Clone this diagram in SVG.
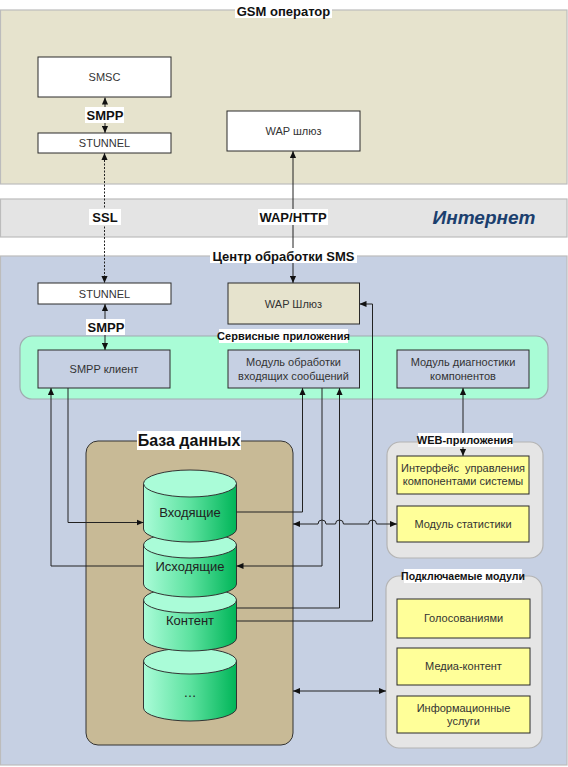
<svg xmlns="http://www.w3.org/2000/svg" width="568" height="767" viewBox="0 0 568 767">
<defs>
<style>
text{font-family:"Liberation Sans",Arial,sans-serif;text-anchor:middle;dominant-baseline:central}
.panel{stroke:#bcbcbc;stroke-width:1.2}
.box{stroke:#2a2a2a;stroke-width:1}
.wbox{fill:#ffffff}
.bbox{fill:#c6d0e3}
.ybox{fill:#ffff99}
.t{font-size:11px;fill:#333}
.lbl{font-size:13px;font-weight:bold;fill:#111}
.sm{font-size:11px;font-weight:bold;fill:#111}
.cyl{font-size:13px;fill:#222}
.bg{fill:#ffffff}
.c{fill:none;stroke:#222;stroke-width:1}
.cy{stroke:#333;stroke-width:1}
</style>
<linearGradient id="g" x1="0" y1="0" x2="1" y2="0">
<stop offset="0" stop-color="#aafcd8"/>
<stop offset="0.5" stop-color="#5de2a0"/>
<stop offset="1" stop-color="#00b558"/>
</linearGradient>
<marker id="a" viewBox="0 0 8 8" refX="8" refY="4" markerWidth="7" markerHeight="7" markerUnits="userSpaceOnUse" orient="auto-start-reverse">
<path d="M0,0.5 L8,4 L0,7.5 Z" fill="#111"/>
</marker>
</defs>

<!-- Panels -->
<g id="gsm-panel">
<rect class="panel" x="0.5" y="10" width="566.5" height="174" fill="#e6e3cd"/>
</g>
<g id="internet-panel">
<rect class="panel" x="0.5" y="199" width="566.5" height="38" fill="#e4e4e4"/>
<text x="484" y="217" style="font-size:19px;font-weight:bold;font-style:italic;fill:#1b3f6e">Интернет</text>
</g>
<g id="sms-panel">
<rect class="panel" x="0.5" y="256" width="566.5" height="509" fill="#c6d0e3"/>
</g>
<g id="service-panel">
<rect x="20" y="336" width="528" height="63" rx="12" fill="#a9fcd6" stroke="#a0aab0" stroke-width="1.2"/>
</g>
<g id="web-panel">
<rect x="387" y="442" width="156" height="116" rx="13" fill="#e5e5e5" stroke="#b4b4b4" stroke-width="1.2"/>
</g>
<g id="plugins-panel">
<rect x="386" y="576" width="156" height="172" rx="13" fill="#e5e5e5" stroke="#b4b4b4" stroke-width="1.2"/>
</g>
<g id="db">
<rect x="86" y="441" width="207" height="304" rx="12" fill="#c8ba96" stroke="#333" stroke-width="1"/>
</g>

<!-- Cylinders (bottom first) -->
<g id="cyl-more">
<path class="cy" d="M143.5,661 V708 A46.5,13 0 0 0 236.5,708 V661 Z" fill="url(#g)"/>
<ellipse class="cy" cx="190" cy="661" rx="46.5" ry="13" fill="#aafcd8"/>
<text class="cyl" x="190" y="692">…</text>
</g>
<g id="cyl-content">
<path class="cy" d="M143.5,600 V638 A46.5,13 0 0 0 236.5,638 V600 Z" fill="url(#g)"/>
<ellipse class="cy" cx="190" cy="600" rx="46.5" ry="13" fill="#aafcd8"/>
<text class="cyl" x="190" y="620">Контент</text>
</g>
<g id="cyl-out">
<path class="cy" d="M143.5,545 V584 A46.5,13 0 0 0 236.5,584 V545 Z" fill="url(#g)"/>
<ellipse class="cy" cx="190" cy="545" rx="46.5" ry="13" fill="#aafcd8"/>
<text class="cyl" x="190" y="566">Исходящие</text>
</g>
<g id="cyl-in">
<path class="cy" d="M143.5,483.5 V529 A46.5,13 0 0 0 236.5,529 V483.5 Z" fill="url(#g)"/>
<ellipse class="cy" cx="190" cy="483.5" rx="46.5" ry="13.5" fill="#aafcd8"/>
<text class="cyl" x="190" y="512">Входящие</text>
</g>

<!-- Connectors -->
<g id="connectors">
<path class="c" d="M105,97.5 V133" marker-start="url(#a)" marker-end="url(#a)"/>
<path class="c" d="M104.5,153 V283" stroke-dasharray="2,1.5" marker-start="url(#a)" marker-end="url(#a)"/>
<path class="c" d="M293,151 V283" marker-start="url(#a)" marker-end="url(#a)"/>
<path class="c" d="M105,304 V350" marker-start="url(#a)" marker-end="url(#a)"/>
<path class="c" d="M68,388 V522.5 H143.5" marker-end="url(#a)"/>
<path class="c" d="M143.5,566 H51 V388" marker-end="url(#a)"/>
<path class="c" d="M236.5,512 H302.5 V388" marker-end="url(#a)"/>
<path class="c" d="M322,388 V566 H236.5" marker-end="url(#a)"/>
<path class="c" d="M236.5,608 H339.5 V388" marker-end="url(#a)"/>
<path class="c" d="M236.5,621 H372.5 V304 H359.5" marker-end="url(#a)"/>
<path class="c" d="M463,388 V456" marker-start="url(#a)" marker-end="url(#a)"/>
<path class="c" d="M293,524 H318 A4,4 0 0 1 326,524 H335.5 A4,4 0 0 1 343.5,524 H368.5 A4,4 0 0 1 376.5,524 H397" marker-start="url(#a)" marker-end="url(#a)"/>
<path class="c" d="M293,691 H386" marker-start="url(#a)" marker-end="url(#a)"/>
</g>

<!-- Connector labels -->
<g id="labels">
<rect class="bg" x="85" y="107" width="39" height="16"/>
<text class="lbl" x="105" y="115">SMPP</text>
<rect class="bg" x="89" y="209" width="32" height="16"/>
<text class="lbl" x="105" y="217">SSL</text>
<rect class="bg" x="258" y="209" width="70" height="16"/>
<text class="lbl" x="293" y="217">WAP/HTTP</text>
<rect class="bg" x="86" y="319" width="39" height="16"/>
<text class="lbl" x="106" y="327">SMPP</text>
</g>

<!-- Panel titles -->
<g id="titles">
<rect class="bg" x="235" y="3" width="97" height="15"/>
<text class="lbl" x="283.5" y="11">GSM оператор</text>
<rect class="bg" x="210" y="248" width="147" height="15"/>
<text class="lbl" x="283.5" y="256">Центр обработки SMS</text>
<rect class="bg" x="219" y="329" width="129" height="14"/>
<text class="sm" x="283.5" y="336">Сервисные приложения</text>
<rect class="bg" x="137" y="431" width="104" height="19"/>
<text x="189" y="440" style="font-size:16px;font-weight:bold;fill:#111">База данных</text>
<rect class="bg" x="418" y="433" width="95" height="14"/>
<text class="sm" x="465" y="440">WEB-приложения</text>
<rect class="bg" x="404" y="569" width="118" height="14"/>
<text x="463" y="576" style="font-size:10.5px;font-weight:bold;fill:#111">Подключаемые модули</text>
</g>

<!-- Nodes -->
<g id="smsc"><rect class="box wbox" x="38" y="57" width="133" height="40"/><text class="t" x="104.5" y="77">SMSC</text></g>
<g id="stunnel-gsm"><rect class="box wbox" x="38" y="133" width="133" height="20"/><text class="t" x="104.5" y="143">STUNNEL</text></g>
<g id="wap-gsm"><rect class="box wbox" x="227" y="111" width="133" height="40"/><text class="t" x="293.5" y="131">WAP шлюз</text></g>
<g id="stunnel-sms"><rect class="box wbox" x="38" y="283" width="133" height="21"/><text class="t" x="104.5" y="293.5">STUNNEL</text></g>
<g id="wap-sms"><rect class="box" x="228" y="283" width="131.5" height="41" fill="#e6e3cd"/><text class="t" x="293.5" y="303.5">WAP Шлюз</text></g>
<g id="smpp-client"><rect class="box bbox" x="38" y="350" width="132" height="38"/><text class="t" x="104" y="369">SMPP клиент</text></g>
<g id="incoming-module"><rect class="box bbox" x="228" y="350" width="131.5" height="38"/><text class="t" x="293.5" y="362">Модуль обработки</text><text class="t" x="293.5" y="375.5">входящих сообщений</text></g>
<g id="diag-module"><rect class="box bbox" x="397" y="350" width="132" height="38"/><text class="t" x="463" y="362">Модуль диагностики</text><text class="t" x="463" y="375.5">компонентов</text></g>
<g id="mgmt-ui"><rect class="box ybox" x="397" y="456" width="132" height="38"/><text class="t" x="463" y="468" xml:space="preserve">Интерфейс  управления</text><text class="t" x="463" y="481">компонентами системы</text></g>
<g id="stats"><rect class="box ybox" x="397" y="506" width="132" height="36"/><text class="t" x="463" y="523.5">Модуль статистики</text></g>
<g id="voting"><rect class="box ybox" x="397" y="599" width="133" height="39"/><text class="t" x="463.5" y="618">Голосованиями</text></g>
<g id="media"><rect class="box ybox" x="397" y="648" width="133" height="37"/><text class="t" x="463.5" y="666">Медиа-контент</text></g>
<g id="info"><rect class="box ybox" x="397" y="696" width="133" height="37"/><text class="t" x="463.5" y="708">Информационные</text><text class="t" x="463.5" y="720.5">услуги</text></g>
</svg>
